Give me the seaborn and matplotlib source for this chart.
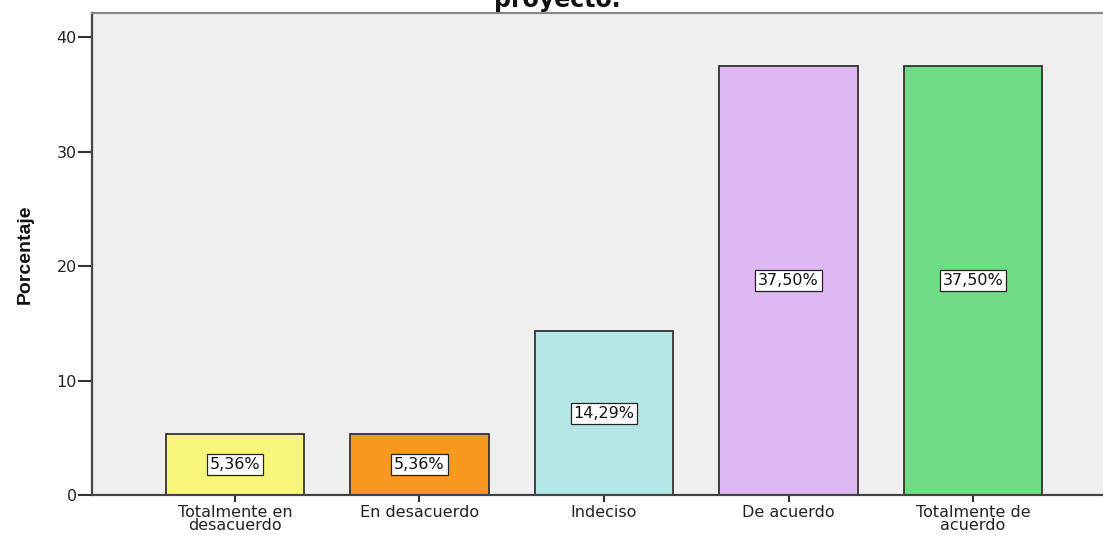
import matplotlib
matplotlib.use("Agg")
import matplotlib.pyplot as plt
import seaborn as sns
import pandas as pd

# Response categories and their percentages
categorias = ["Totalmente en\ndesacuerdo", "En desacuerdo", "Indeciso",
              "De acuerdo", "Totalmente de\nacuerdo"]
porcentajes = [5.36, 5.36, 14.29, 37.50, 37.50]
etiquetas = ["5,36%", "5,36%", "14,29%", "37,50%", "37,50%"]
colores = ["#F8F67A", "#F7981F", "#B4E6E6", "#DDB8F1", "#70DD86"]
yticks = [0, 10, 20, 30, 40]

sns.set_style("white")
plt.rcParams["font.family"] = ["DejaVu Sans"]

df = pd.DataFrame({"categoria": categorias, "porcentaje": porcentajes})

W, H = 1103, 535
fig = plt.figure(figsize=(W / 100, H / 100), dpi=100)
fig.patch.set_facecolor("white")
left, right, top, bottom = 92, 1116, 13, 495
ax = fig.add_axes([left / W, (H - bottom) / H, (right - left) / W, (bottom - top) / H])
ax.set_facecolor("#EFEFEF")

sns.barplot(data=df, x="categoria", y="porcentaje", hue="categoria",
            palette=colores, legend=False, width=0.75, ax=ax,
            edgecolor="#333333", linewidth=1.3, saturation=1)

# Value boxes at mid-height of each bar
for i, (v, t) in enumerate(zip(porcentajes, etiquetas)):
    ax.text(i, v / 2, t, ha="center", va="center", fontsize=11.5, color="#111111",
            bbox=dict(boxstyle="square,pad=0.18", facecolor="white",
                      edgecolor="#222222", linewidth=0.9))

ax.set_xlim(-0.775, 4.775)
ax.set_ylim(0, 42.1)
ax.set_yticks(yticks)
ax.set_yticklabels([str(y) for y in yticks], fontsize=11.5, color="#222222")
ax.set_xlabel("")
ax.set_ylabel("Porcentaje", fontsize=14, fontweight="bold",
              family="Liberation Sans", labelpad=16, color="#111111")
for lab in ax.get_xticklabels():
    lab.set_fontsize(11.5)
    lab.set_linespacing(0.85)
    lab.set_color("#222222")

ax.tick_params(axis="y", left=True, length=10, width=1.5, color="#333333", pad=1)
ax.tick_params(axis="x", bottom=True, length=5, width=1.5, color="#333333", pad=2)

for side in ["left", "bottom"]:
    ax.spines[side].set_color("#444444")
    ax.spines[side].set_linewidth(1.6)
ax.spines["top"].set_color("#888888")
ax.spines["top"].set_linewidth(1.6)
ax.spines["right"].set_visible(False)

fig.text(557 / W, 1 - 7 / H, "proyecto.", ha="center", va="baseline",
         fontsize=17, fontweight="bold", color="#111111")

fig.savefig("out.png", dpi=100)
